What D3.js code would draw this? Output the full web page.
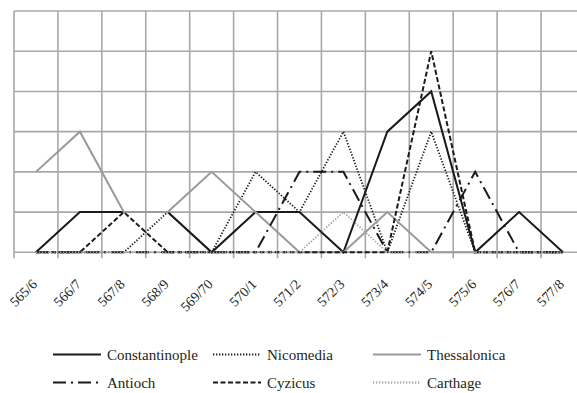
<!DOCTYPE html>
<html>
<head>
<meta charset="utf-8">
<script src="https://cdnjs.cloudflare.com/ajax/libs/d3/7.8.5/d3.min.js"></script>
<style>
  html, body { margin: 0; padding: 0; background: #fff; overflow: hidden; }
  svg { display: block; }
  .tick-label, .legend-label { font-family: "Liberation Serif", "Times New Roman", serif; }
</style>
</head>
<body>
<svg id="chart" width="577" height="393"></svg>
<script>
const categories = ["565/6","566/7","567/8","568/9","569/70","570/1","571/2","572/3","573/4","574/5","575/6","576/7","577/8"];
const yTicks = [0,1,2,3,4,5,6];
const seriesNames = ["Constantinople","Nicomedia","Thessalonica","Antioch","Cyzicus","Carthage"];
const constantinople = [0,1,1,1,0,1,1,0,3,4,0,1,0];
const nicomedia      = [0,0,0,1,0,2,1,3,0,3,0,0,0];
const thessalonica   = [2,3,1,1,2,1,0,0,1,0,0,0,0];
const antioch        = [0,0,0,0,0,0,2,2,0,0,2,0,0];
const cyzicus        = [0,0,1,0,0,0,0,0,0,5,0,0,0];
const carthage       = [0,0,0,0,0,0,0,1,0,0,0,0,0];

const values = [constantinople, nicomedia, thessalonica, antioch, cyzicus, carthage];
const styles = [
  {stroke:"#1a1a1a", width:2,   dash:null},
  {stroke:"#1a1a1a", width:1.8, dash:"1.3,1.7"},
  {stroke:"#9a9a9a", width:2,   dash:null},
  {stroke:"#1a1a1a", width:2,   dash:"13,5,2,5"},
  {stroke:"#1a1a1a", width:2,   dash:"5,2.5"},
  {stroke:"#a0a0a0", width:1.8, dash:"1.3,1.7"}
];

const svg = d3.select("#chart");
const bandW = 43.92;
const x = d3.scaleBand().domain(categories).range([14, 14 + bandW*categories.length]).paddingInner(0).paddingOuter(0);
const y = d3.scaleLinear().domain([0, 6]).range([252.3, 11]);

const grid = svg.append("g").attr("stroke", "#a8a8a8").attr("stroke-width", 1.6);
grid.selectAll("line.h").data(yTicks).join("line")
  .attr("x1", x.range()[0]).attr("x2", x.range()[1])
  .attr("y1", d => y(d)).attr("y2", d => y(d));
const edges = categories.map(c => x(c)).concat([x.range()[1]]);
grid.selectAll("line.v").data(edges).join("line")
  .attr("x1", d => d).attr("x2", d => d)
  .attr("y1", y(6)).attr("y2", y(0) + 6);

svg.append("g").selectAll("text").data(categories).join("text")
  .attr("class", "tick-label")
  .attr("transform", d => `translate(${x(d) + x.bandwidth()/2 + 2},285) rotate(-45)`)
  .attr("text-anchor", "end")
  .attr("font-size", 14)
  .attr("fill", "#231f20")
  .text(d => d);

const line = d3.line()
  .x((d, i) => x(categories[i]) + x.bandwidth()/2)
  .y(d => y(d));
values.forEach((v, k) => {
  const s = styles[k];
  svg.append("path").datum(v)
    .attr("d", line)
    .attr("fill", "none")
    .attr("stroke", s.stroke)
    .attr("stroke-width", s.width)
    .attr("stroke-dasharray", s.dash)
    .attr("stroke-linejoin", "miter");
});

const legend = svg.append("g");
seriesNames.forEach((name, k) => {
  const col = k % 3, row = Math.floor(k / 3);
  const lx = 53 + col*160;
  const base = row === 0 ? 359.5 : 387.5;
  const s = styles[k];
  legend.append("line")
    .attr("x1", lx).attr("x2", lx + 48)
    .attr("y1", base - 5).attr("y2", base - 5)
    .attr("stroke", s.stroke).attr("stroke-width", s.width)
    .attr("stroke-dasharray", s.dash);
  legend.append("text")
    .attr("class", "legend-label")
    .attr("x", lx + 54).attr("y", base)
    .attr("font-size", 15)
    .attr("fill", "#231f20")
    .text(name);
});
</script>
</body>
</html>
